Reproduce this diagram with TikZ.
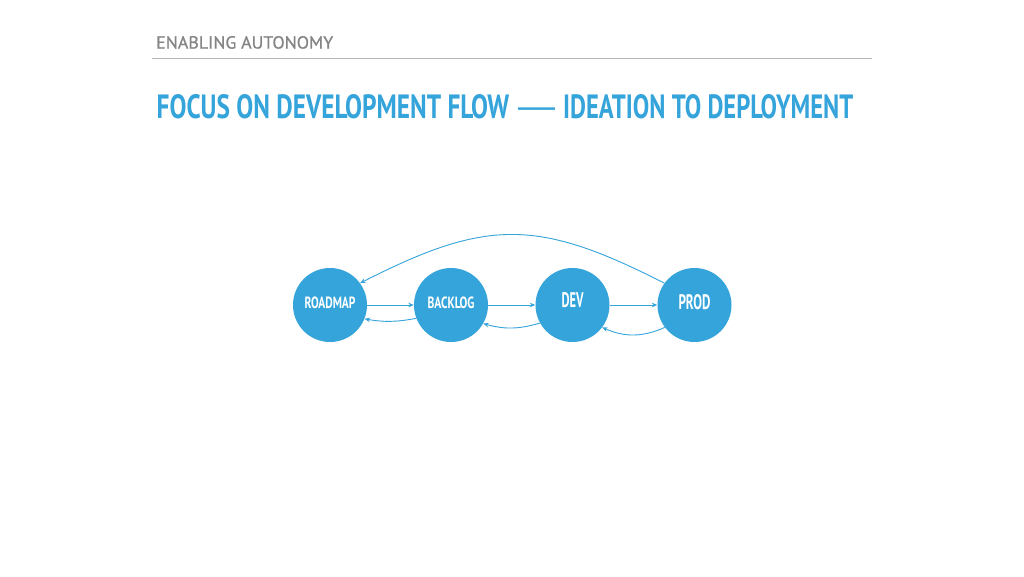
\documentclass[tikz,border=0pt]{standalone}
\usepackage{fontspec}
\setmainfont{PT Sans}
\newfontfamily\headfont[FakeBold=0.7]{PT Sans}
\newfontfamily\dashfont{Liberation Sans}
\usetikzlibrary{arrows.meta}
\definecolor{accent}{RGB}{52,164,219}
\definecolor{headgray}{RGB}{132,132,132}
\definecolor{rulegray}{RGB}{180,180,180}
\tikzset{
  stage/.style={circle, fill=accent, draw=none, minimum size=74pt, inner sep=0pt, text=white, font=\bfseries},
  flow/.style={draw=accent, line width=0.9pt, -{Stealth[length=5.5pt,width=4.5pt]}},
  txt/.style={inner sep=0pt, anchor=south west}
}
\begin{document}
\begin{tikzpicture}[x=1pt,y=1pt]
\useasboundingbox (0,0) rectangle (1024,576);
\fill[white] (0,0) rectangle (1024,576);
% header
\node[txt, text=headgray] (head) at (156,527) {\resizebox{177pt}{12.5pt}{\headfont ENABLING AUTONOMY}};
\coordinate (ruleL) at (152,517.5);
\coordinate (ruleR) at (872,517.5);
\draw[rulegray, line width=1.1pt] (ruleL) -- (ruleR);
% title
\node[txt, text=accent] (titleA) at (156.5,457) {\resizebox{352.5pt}{24pt}{\bfseries FOCUS ON DEVELOPMENT FLOW}};
\node[inner sep=0pt, anchor=base west, text=accent, font={\dashfont\fontsize{37}{37}\selectfont}] (titleDash) at (518,457) {—};
\node[txt, text=accent] (titleB) at (563,457) {\resizebox{290pt}{24pt}{\bfseries IDEATION TO DEPLOYMENT}};
% stages
\node[stage] (roadmap) at (330,271) {\raisebox{2.5pt}[11.6pt][0pt]{\resizebox{51pt}{11.6pt}{ROADMAP}}};
\node[stage] (backlog) at (451,271) {\raisebox{2pt}[11.6pt][0pt]{\resizebox{47pt}{11.6pt}{BACKLOG}}};
\node[stage] (dev) at (572.5,271) {\raisebox{4.5pt}[15pt][0pt]{\resizebox{22pt}{15pt}{DEV}}};
\node[stage] (prod) at (694.5,271) {\raisebox{2.5pt}[15pt][0pt]{\resizebox{32pt}{15pt}{PROD}}};
% forward flow
\draw[flow] (roadmap) -- (backlog);
\draw[flow] (backlog) -- (dev);
\draw[flow] (dev) -- (prod);
% feedback
\draw[flow] (backlog.201) to[bend left=10] (roadmap.-22);
\draw[flow] (dev.-151) to[bend left=16] (backlog.-30);
\draw[flow] (prod.-143) to[bend left=24] (dev.-37);
\draw[flow] (prod.144) to[out=153,in=27,looseness=1.2] (roadmap.36);
\end{tikzpicture}
\end{document}
